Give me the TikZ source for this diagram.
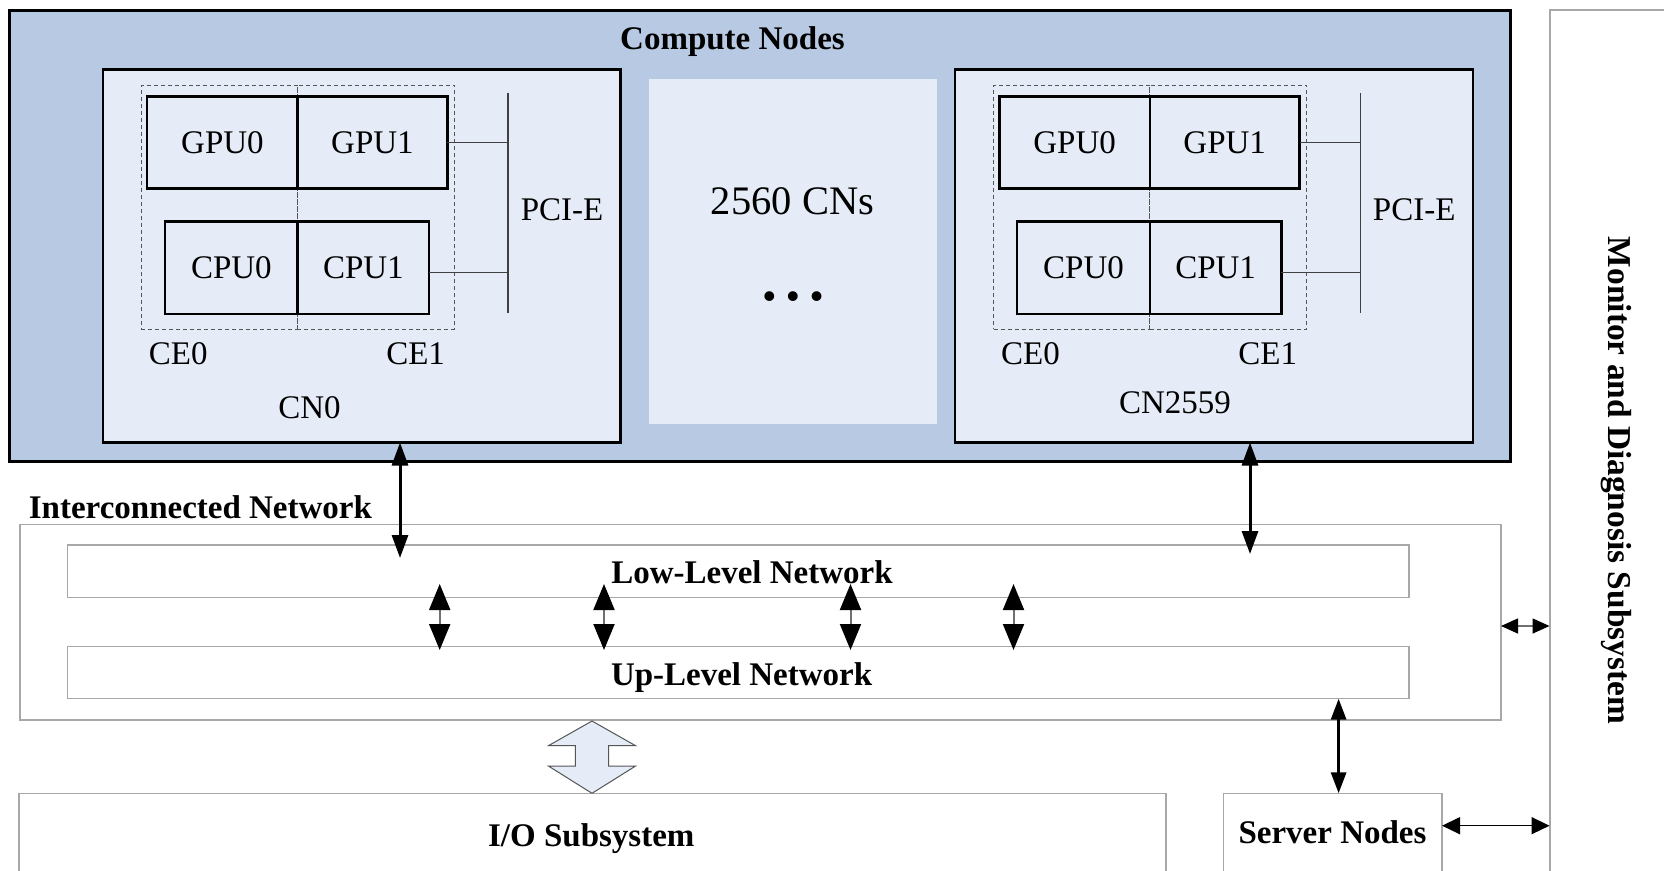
\documentclass[tikz,border=0pt]{standalone}
\usepackage{fontspec}
\setmainfont{Liberation Serif}
\usetikzlibrary{arrows.meta}

\definecolor{cnouter}{HTML}{B8C9E3}
\definecolor{cninner}{HTML}{E6ECF7}
\definecolor{netgray}{HTML}{A8A8A8}
\definecolor{busgray}{HTML}{404040}
\definecolor{dashgray}{HTML}{555555}
\definecolor{shaftgray}{HTML}{707070}

\newcommand\txtsize{\fontsize{33}{38}\selectfont}
\newcommand\bigtxtsize{\fontsize{40.5}{46}\selectfont}

\begin{document}
\begin{tikzpicture}[x=1pt,y=-1pt,
  box/.style={rectangle,inner sep=0pt,outer sep=0pt,anchor=north west},
  graybox/.style={box,draw=netgray,line width=1.5pt},
  unitbox/.style={box,draw=black,line width=2.5pt},
  cebox/.style={box,draw=dashgray,line width=1pt,dash pattern=on 4pt off 3pt},
  lbl/.style={font=\txtsize,inner sep=0pt},
  ttl/.style={font=\txtsize\bfseries,inner sep=0pt},
  bus/.style={draw=busgray,line width=1.2pt},
  linkarrow/.style={line width=3pt,
    {Triangle[length=23pt,width=16pt]}-{Triangle[length=23pt,width=16pt]}},
  levelarrow/.style={draw=shaftgray,line width=2pt,
    {Triangle[length=26pt,width=21pt,fill=black,color=black]}-{Triangle[length=26pt,width=21pt,fill=black,color=black]}},
  sidearrow/.style={draw=shaftgray,line width=1.5pt,
    {Triangle[length=17pt,width=15pt,fill=black,color=black]}-{Triangle[length=17pt,width=15pt,fill=black,color=black]}},
  srvarrow/.style={line width=1.5pt,
    {Triangle[length=18pt,width=17pt]}-{Triangle[length=18pt,width=17pt]}},
  hollow/.style={draw=dashgray,line width=1pt,fill=cninner,line join=miter}
]
\useasboundingbox (0,0) rectangle (1664,870);
\clip (0,0) rectangle (1664,870);
\fill[white] (0,0) rectangle (1664,870);

% ---- compute nodes ----
\node[box,fill=cnouter,draw=black,line width=3pt,minimum width=1501pt,minimum height=451.5pt] (compute) at (9,10) {};
\node[ttl,anchor=base] (computetitle) at (732.5,49.3) {Compute Nodes};

\node[box,fill=cninner,minimum width=287.6pt,minimum height=345pt] (many) at (649.3,79) {};
\node[lbl,font=\bigtxtsize] (manytxt) at (792.5,201.7) {2560 CNs};
\node[lbl,font=\fontsize{36}{40}\selectfont\bfseries] (dots) at (793,300)
  {\textbullet\hspace{11pt}\textbullet\hspace{11pt}\textbullet};

\foreach \dx/\p/\cn/\cnx/\cny in {0/a/CN0/309.5/408, 852.2/b/CN2559/322.8/403}{
  \begin{scope}[shift={(\dx,0)}]
    \node[box,fill=cninner,draw=black,line width=2.5pt,minimum width=517.6pt,minimum height=373.2pt] (\p-cn) at (103,69.3) {};
    \node[cebox,minimum width=155.9pt,minimum height=244pt] (\p-ce0) at (141.4,85.3) {};
    \node[cebox,minimum width=157.1pt,minimum height=244pt] (\p-ce1) at (297.3,85.3) {};
    \node[unitbox,minimum width=150.5pt,minimum height=92pt] (\p-gpu0) at (147.2,96.7) {};
    \node[unitbox,minimum width=149.6pt,minimum height=92pt] (\p-gpu1) at (297.7,96.7) {};
    \node[unitbox,minimum width=132.7pt,minimum height=92.3pt] (\p-cpu0) at (165,221.7) {};
    \node[unitbox,minimum width=131.4pt,minimum height=92.3pt] (\p-cpu1) at (297.7,221.7) {};
    \node[lbl] at (\p-gpu0.center) {GPU0};
    \node[lbl] at (\p-gpu1.center) {GPU1};
    \node[lbl] at (\p-cpu0.center) {CPU0};
    \node[lbl] at (\p-cpu1.center) {CPU1};
    \node[lbl] (\p-ce0lbl) at (178.3,353.7) {CE0};
    \node[lbl] (\p-ce1lbl) at (415.6,353.7) {CE1};
    \node[lbl] (\p-cnlbl) at (\cnx,\cny) {\cn};
    % PCI-E bus
    \coordinate (\p-bt) at (507.9,93.3);
    \coordinate (\p-bb) at (507.9,313.3);
    \draw[bus] (\p-bt) -- (\p-bb);
    \node[lbl] (\p-pcie) at (562,210) {PCI-E};
    \coordinate (\p-cp) at ([yshift=-5pt]\p-cpu1.east);
    \draw[bus] (\p-gpu1.east) -- (\p-gpu1.east -| \p-bt);
    \draw[bus] (\p-cp) -- (\p-cp -| \p-bt);
  \end{scope}
}

% ---- interconnected network ----
\node[graybox,minimum width=1481pt,minimum height=195.7pt] (inter) at (20,524.3) {};
\node[ttl,anchor=base west] (intertitle) at (28.7,518.3) {Interconnected Network};
\node[graybox,minimum width=1341.1pt,minimum height=52.3pt] (low) at (67.7,545) {};
\node[ttl,anchor=base] (lowtxt) at (752,583.3) {Low-Level Network};
\node[graybox,minimum width=1341.1pt,minimum height=52pt] (up) at (67.7,646.7) {};
\node[ttl,anchor=base] (uptxt) at (741.6,685) {Up-Level Network};

% ---- lower subsystems ----
\node[graybox,minimum width=1147pt,minimum height=120pt] (io) at (19,793.3) {};
\node[ttl,anchor=base] (iotxt) at (591.3,846.7) {I/O Subsystem};
\node[graybox,minimum width=218.4pt,minimum height=120pt] (server) at (1223.6,793.3) {};
\node[ttl,anchor=base] (servertxt) at (1332.5,843.3) {Server Nodes};

% ---- monitor and diagnosis ----
\node[box,draw=netgray,line width=2pt,minimum width=200pt,minimum height=900pt] (monitor) at (1549.5,10) {};
\node[ttl,anchor=base,rotate=-90,font=\fontsize{33.4}{38}\selectfont\bfseries] (monitortxt) at (1608.3,480.5) {Monitor and Diagnosis Subsystem};

% ---- connectors ----
\coordinate (a-end) at (400,558);
\coordinate (b-end) at (1250,554);
\draw[linkarrow] (a-end |- a-cn.south) -- (a-end);
\draw[linkarrow] (b-end |- b-cn.south) -- (b-end);

\foreach \x [count=\i] in {439.7,604,850.5,1013.5}{
  \coordinate (lt\i) at (\x,584);
  \coordinate (lb\i) at (\x,650);
  \draw[levelarrow] (lt\i) -- (lb\i);
}

\draw[sidearrow] (inter.east |- 0,626) -- (monitor.west |- 0,626);
\draw[srvarrow] (server.east |- 0,825.7) -- (monitor.west |- 0,825.7);

\coordinate (sa) at (1338.6,0);
\draw[linkarrow,{Triangle[length=21pt,width=15pt]}-{Triangle[length=21pt,width=15pt]}]
  (sa |- up.south) -- (sa |- server.north);

% hollow double arrow between network and I/O
\coordinate (iotop) at (592,721);
\draw[hollow] (iotop) -- ++(43.6,24.7) -- ++(-26.9,0) -- ++(0,20.3) -- ++(26.9,0)
  -- ++(-43.6,27.3) -- ++(-43.6,-27.3) -- ++(26.9,0) -- ++(0,-20.3) -- ++(-26.9,0) -- cycle;
\end{tikzpicture}
\end{document}
